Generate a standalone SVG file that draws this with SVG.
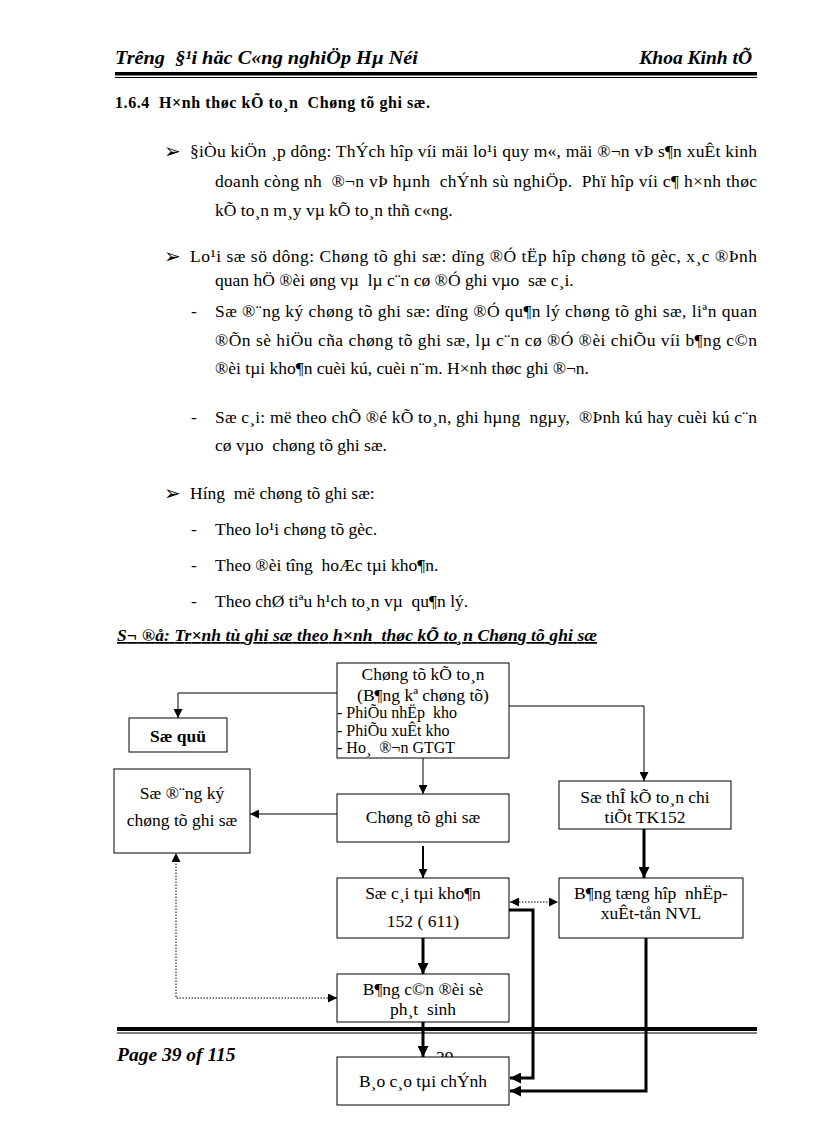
<svg xmlns="http://www.w3.org/2000/svg" width="816" height="1123" viewBox="0 0 816 1123" xml:space="preserve">
<style>
text{font-family:"Liberation Serif","Times New Roman",serif;fill:#000;white-space:pre}
.b{font-size:17.5px}
.hd{font-size:19.5px;font-weight:bold;font-style:italic}
.h2{font-size:16px;font-weight:bold}
.ttl{font-size:17.5px;font-weight:bold;font-style:italic;text-decoration:underline}
.bul{font-family:"DejaVu Sans",sans-serif;font-size:20px}
.n{font-size:17.5px;text-anchor:middle}
.s{font-size:16px}
.box{fill:#fff;stroke:#000;stroke-width:1}
.c{fill:none;stroke:#000;stroke-width:1}
.k{stroke-width:3}
.m{stroke-width:2}
.d{stroke-dasharray:1.5 1.5}
</style>
<defs>
<marker id="a" markerUnits="userSpaceOnUse" markerWidth="9" markerHeight="9" refX="9" refY="4.5" orient="auto-start-reverse"><path d="M0,0 L9,4.5 L0,9 z" fill="#000"/></marker>
<marker id="ak" markerUnits="userSpaceOnUse" markerWidth="11" markerHeight="11" refX="11" refY="5.5" orient="auto"><path d="M0,0 L11,5.5 L0,11 z" fill="#000"/></marker>
</defs>
<rect width="816" height="1123" fill="#fff"/>

<g id="header">
<text class="hd" x="115" y="64" textLength="303" lengthAdjust="spacingAndGlyphs">Trêng  §¹i häc C«ng nghiÖp Hµ Néi</text>
<text class="hd" x="752" y="64" text-anchor="end">Khoa Kinh tÕ</text>
<rect x="115" y="72" width="642" height="3.5" fill="#000"/>
<rect x="115" y="77" width="642" height="1" fill="#000"/>
</g>

<g id="body">
<text class="h2" x="115" y="108" textLength="315" lengthAdjust="spacing">1.6.4  H×nh thøc kÕ to¸n  Chøng tõ ghi sæ.</text>
<text class="bul" x="164" y="158">➢</text>
<text class="b" x="190" y="157" textLength="567" lengthAdjust="spacing">§iÒu kiÖn ¸p dông: ThÝch hîp víi mäi lo¹i quy m«, mäi ®¬n vÞ s¶n xuÊt kinh</text>
<text class="b" x="215" y="187" textLength="542" lengthAdjust="spacing">doanh còng nh  ®¬n vÞ hµnh  chÝnh sù nghiÖp.  Phï hîp víi c¶ h×nh thøc</text>
<text class="b" x="215" y="216">kÕ to¸n m¸y vµ kÕ to¸n thñ c«ng.</text>
<text class="bul" x="164" y="263">➢</text>
<text class="b" x="190" y="262" textLength="567" lengthAdjust="spacing">Lo¹i sæ sö dông: Chøng tõ ghi sæ: dïng ®Ó tËp hîp chøng tõ gèc, x¸c ®Þnh</text>
<text class="b" x="215" y="286">quan hÖ ®èi øng vµ  lµ c¨n cø ®Ó ghi vµo  sæ c¸i.</text>
<text class="b" x="191" y="317">-</text>
<text class="b" x="215" y="317" textLength="542" lengthAdjust="spacing">Sæ ®¨ng ký chøng tõ ghi sæ: dïng ®Ó qu¶n lý chøng tõ ghi sæ, liªn quan</text>
<text class="b" x="215" y="346" textLength="542" lengthAdjust="spacing">®Õn sè hiÖu cña chøng tõ ghi sæ, lµ c¨n cø ®Ó ®èi chiÕu víi b¶ng c©n</text>
<text class="b" x="215" y="374">®èi tµi kho¶n cuèi kú, cuèi n¨m. H×nh thøc ghi ®¬n.</text>
<text class="b" x="191" y="423">-</text>
<text class="b" x="215" y="423" textLength="542" lengthAdjust="spacing">Sæ c¸i: më theo chÕ ®é kÕ to¸n, ghi hµng  ngµy,  ®Þnh kú hay cuèi kú c¨n</text>
<text class="b" x="215" y="451">cø vµo  chøng tõ ghi sæ.</text>
<text class="bul" x="164" y="500">➢</text>
<text class="b" x="190" y="499">Híng  më chøng tõ ghi sæ:</text>
<text class="b" x="191" y="535">-</text>
<text class="b" x="215" y="535">Theo lo¹i chøng tõ gèc.</text>
<text class="b" x="191" y="571">-</text>
<text class="b" x="215" y="571">Theo ®èi tîng  hoÆc tµi kho¶n.</text>
<text class="b" x="191" y="607">-</text>
<text class="b" x="215" y="607">Theo chØ tiªu h¹ch to¸n vµ  qu¶n lý.</text>
<text class="ttl" x="117" y="641" textLength="480" lengthAdjust="spacing">S¬ ®å: Tr×nh tù ghi sæ theo h×nh  thøc kÕ to¸n Chøng tõ ghi sæ</text>
</g>

<g id="footer">
<text class="hd" x="117" y="1061">Page 39 of 115</text>
<text class="b" x="436" y="1063">39</text>
</g>

<g id="connectors">
<path class="c" d="M337,693 H178 V718" marker-end="url(#a)"/>
<path class="c" d="M423,758 V794" marker-end="url(#a)"/>
<path class="c" d="M509,706 H644 V781" marker-end="url(#a)"/>
<path class="c" d="M337,814 H250" marker-end="url(#a)"/>
<path class="c m" d="M423,846 V878" marker-end="url(#a)"/>
<path class="c k" d="M644,829 V878" marker-end="url(#ak)"/>
<path class="c d" d="M510,902 H558" marker-start="url(#a)" marker-end="url(#a)"/>
<path class="c k" d="M423,938 V974" marker-end="url(#ak)"/>
<path class="c k" d="M509,910 H533 V1078 H510" marker-end="url(#ak)"/>
<path class="c k" d="M646,938 V1091 H510" marker-end="url(#ak)"/>
<path class="c d" d="M337,998 H176 V853" marker-start="url(#a)" marker-end="url(#a)"/>
<path class="c k" d="M423,1022 V1057" marker-end="url(#ak)"/>
</g>

<g id="footer-rule">
<rect x="117" y="1027" width="640" height="4" fill="#000"/>
<rect x="117" y="1032.5" width="640" height="1" fill="#000"/>
</g>

<g id="n-ctkt">
<rect class="box" x="337" y="663" width="172" height="95"/>
<text class="n" x="423" y="680">Chøng tõ kÕ to¸n</text>
<text class="n" x="423" y="701">(B¶ng kª chøng tõ)</text>
<text class="s" x="337" y="718">- PhiÕu nhËp  kho</text>
<text class="s" x="337" y="736">- PhiÕu xuÊt kho</text>
<text class="s" x="337" y="753">- Ho¸  ®¬n GTGT</text>
</g>
<g id="n-soquy">
<rect class="box" x="129" y="718" width="98" height="34"/>
<text class="n" x="178" y="742" font-weight="bold" font-size="18">Sæ quü</text>
</g>
<g id="n-sodk">
<rect class="box" x="114" y="769" width="136" height="84"/>
<text class="n" x="182" y="799">Sæ ®¨ng ký</text>
<text class="n" x="182" y="826">chøng tõ ghi sæ</text>
</g>
<g id="n-ctgs">
<rect class="box" x="337" y="794" width="172" height="48"/>
<text class="n" x="423" y="823">Chøng tõ ghi sæ</text>
</g>
<g id="n-sothe">
<rect class="box" x="559" y="781" width="172" height="48"/>
<text class="n" x="645" y="803">Sæ thÎ kÕ to¸n chi</text>
<text class="n" x="645" y="823">tiÕt TK152</text>
</g>
<g id="n-socai">
<rect class="box" x="337" y="878" width="172" height="60"/>
<text class="n" x="423" y="899">Sæ c¸i tµi kho¶n</text>
<text class="n" x="423" y="927">152 ( 611)</text>
</g>
<g id="n-bth">
<rect class="box" x="559" y="878" width="184" height="60"/>
<text class="n" x="651" y="899">B¶ng tæng hîp  nhËp-</text>
<text class="n" x="651" y="919">xuÊt-tån NVL</text>
</g>
<g id="n-bcd">
<rect class="box" x="337" y="974" width="172" height="48"/>
<text class="n" x="423" y="995">B¶ng c©n ®èi sè</text>
<text class="n" x="423" y="1015">ph¸t  sinh</text>
</g>
<g id="n-bctc">
<rect class="box" x="337" y="1057" width="172" height="48"/>
<text class="n" x="423" y="1087">B¸o c¸o tµi chÝnh</text>
</g>
</svg>
